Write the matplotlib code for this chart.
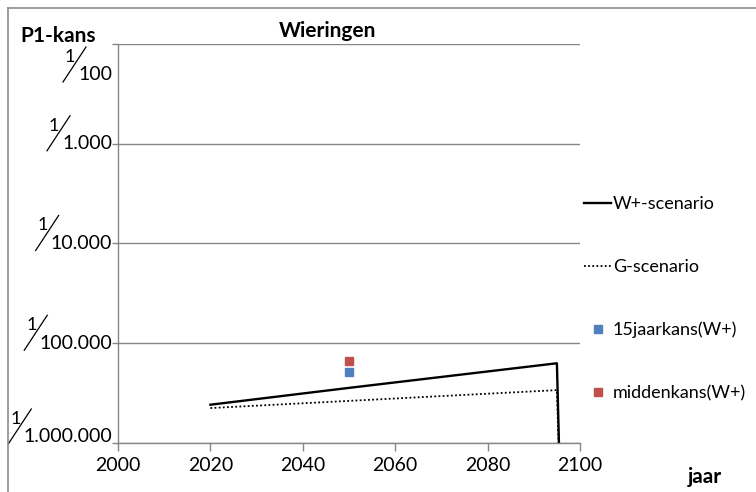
import matplotlib
matplotlib.use('Agg')
import matplotlib.pyplot as plt
import matplotlib.transforms as mtransforms
from matplotlib.lines import Line2D
import numpy as np

# data
jaren_w = [2020, 2050, 2095, 2096]
kans_w = [2.42e-6, 3.57e-6, 6.3e-6, 1e-7]
jaren_g = [2020, 2095, 2096]
kans_g = [2.24e-6, 3.39e-6, 1e-7]
jaar_punt = [2050]
kans_15j = [5.2e-6]
kans_midden = [6.6e-6]

ytick_vals = [1e-2, 1e-3, 1e-4, 1e-5, 1e-6]
ytick_noemers = ['100', '1.000', '10.000', '100.000', '1.000.000']
ytick_shift = [31, 0, 0, 0, -6]      # pixels downwards (Excel squeezes top/bottom label)
xticks = [2000, 2020, 2040, 2060, 2080, 2100]

plt.rcParams['font.family'] = ['Lato', 'DejaVu Sans']
grijs = '#868686'

W, H = 756, 492
fig = plt.figure(figsize=(W/100, H/100), dpi=100)
ax = fig.add_axes([118/W, 1-443/H, (580-118)/W, (443-44)/H])

ax.plot(jaren_w, kans_w, color='black', lw=1.7, label='W+-scenario')
ax.plot(jaren_g, kans_g, color='black', lw=1.3, linestyle=(0, (1, 1.3)), label='G-scenario')
ax.plot(jaar_punt, kans_15j, 's', color='#4F81BD', ms=6, mec='#4F81BD', label='15jaarkans(W+)', clip_on=False)
ax.plot(jaar_punt, kans_midden, 's', color='#C0504D', ms=6, mec='#C0504D', label='middenkans(W+)', clip_on=False)

ax.set_yscale('log')
ax.set_ylim(1e-6, 1e-2)
ax.set_xlim(2000, 2100)
ax.set_xticks(xticks)
ax.set_xticklabels([str(x) for x in xticks], fontsize=14)
ax.set_yticks(ytick_vals)
ax.set_yticklabels([])
ax.yaxis.set_minor_locator(matplotlib.ticker.NullLocator())
ax.tick_params(axis='x', direction='out', length=6, width=1, color=grijs, pad=4)
ax.tick_params(axis='y', direction='out', length=4, width=1, color=grijs)
ax.grid(axis='y', color=grijs, lw=1)
ax.set_axisbelow(True)
for s in ['top', 'right']:
    ax.spines[s].set_visible(False)
for s in ['left', 'bottom']:
    ax.spines[s].set_color(grijs)
    ax.spines[s].set_linewidth(1)

# fraction-style y labels: 1 / noemer
fig.canvas.draw()
renderer = fig.canvas.get_renderer()
x0 = ax.transAxes.transform((0, 0))[0]
for val, noemer, sh in zip(ytick_vals, ytick_noemers, ytick_shift):
    tr = mtransforms.offset_copy(ax.get_yaxis_transform(), fig=fig, x=-6, y=-sh, units='dots')
    t = ax.text(0, val, noemer, transform=tr, ha='right', va='center', fontsize=14, clip_on=False)
    w = t.get_window_extent(renderer).width
    yc = ax.transData.transform((2000, val))[1] - sh
    xl = x0 - 6 - w
    fig.add_artist(Line2D([(xl-15)/W, (xl+8)/W], [(yc-7)/H, (yc+28)/H], color='black', lw=0.9))
    fig.text((xl-8)/W, (yc+18)/H, '1', ha='center', va='center', fontsize=13)

# titles
fig.text(20/W, 1-41.5/H, 'P1-kans', fontsize=15, fontweight='bold', va='baseline', ha='left')
fig.text(328/W, 1-36.7/H, 'Wieringen', fontsize=15, fontweight='bold', va='baseline', ha='center')
fig.text(688/W, 1-483/H, 'jaar', fontsize=15, fontweight='bold', va='baseline', ha='left')

# outer chart border
fig.add_artist(Line2D([8/W, 8/W], [0, 1-8/H], color='#8c8c8c', lw=1.2))
fig.add_artist(Line2D([8/W, 1], [1-8/H, 1-8/H], color='#8c8c8c', lw=1.2))

leg = ax.legend(loc='upper left', bbox_to_anchor=(584/W, 1-196/H), bbox_transform=fig.transFigure,
                frameon=False, fontsize=13, handlelength=1.5, handletextpad=0.1,
                labelspacing=2.6, borderpad=0, borderaxespad=0, markerscale=0.95)

fig.savefig('out.png', dpi=100)
